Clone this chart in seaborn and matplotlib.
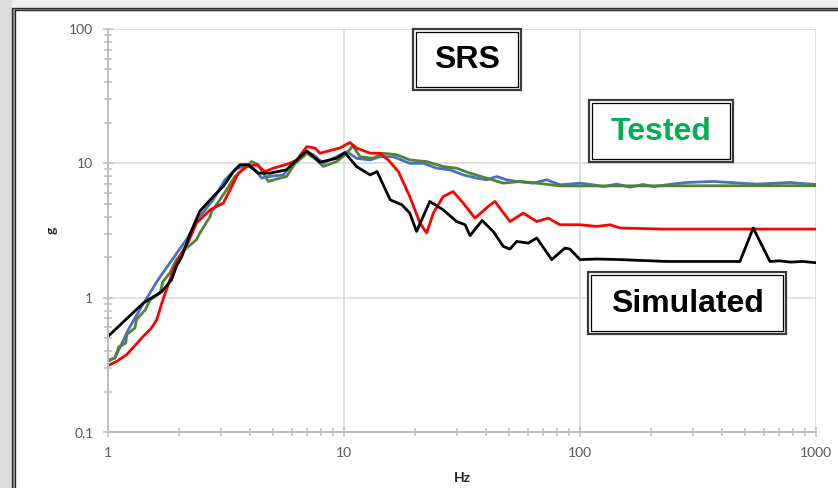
import numpy as np
import pandas as pd
import matplotlib
matplotlib.use("Agg")
import matplotlib.pyplot as plt
from matplotlib.patches import Rectangle
from matplotlib.ticker import FixedLocator, NullFormatter
import seaborn as sns

# ---------------- data ----------------
black_f = [1.0, 1.41, 1.69, 1.86, 1.95, 2.05, 2.23, 2.45, 2.79, 3.08, 3.40, 3.62, 3.93,
           4.33, 4.86, 5.71, 6.31, 6.95, 7.91, 9.31, 10.1, 11.3, 12.9, 13.8, 15.7, 17.6,
           19.0, 20.3, 23.1, 26.3, 30.0, 32.6, 34.2, 38.5, 42.9, 47.3, 50.5, 53.9, 60.4,
           65.6, 75.9, 86.3, 90.7, 100, 118, 148, 233, 476, 542, 638, 700, 780, 880, 1000]
black_g = [0.515, 0.91, 1.11, 1.36, 1.72, 2.0, 3.0, 4.4, 5.66, 6.73, 8.69, 9.75, 9.75,
           8.45, 8.45, 8.95, 10.6, 12.4, 10.2, 10.9, 12.0, 9.47, 8.2, 8.69, 5.35, 4.91,
           4.26, 3.11, 5.2, 4.51, 3.69, 3.49, 2.9, 3.75, 3.11, 2.41, 2.3, 2.62, 2.55,
           2.78, 1.92, 2.34, 2.3, 1.92, 1.94, 1.92, 1.86, 1.86, 3.3, 1.86, 1.88, 1.84, 1.86, 1.82]

red_f = [1.0, 1.09, 1.2, 1.3, 1.41, 1.53, 1.61, 1.69, 1.77, 1.89, 2.05, 2.19, 2.37, 2.71,
         3.08, 3.29, 3.57, 3.87, 4.27, 4.62, 5.02, 5.9, 6.31, 6.95, 7.54, 7.91, 9.6, 10.6,
         11.3, 12.9, 14.2, 15.4, 17.0, 19.0, 21.0, 22.4, 23.9, 26.3, 29.0, 32.0, 35.9,
         41.6, 43.6, 50.5, 57.5, 65.6, 73.4, 82.3, 100, 118, 134, 148, 225, 1000]
red_g = [0.312, 0.336, 0.377, 0.44, 0.515, 0.595, 0.686, 0.91, 1.15, 1.61, 2.15, 2.6, 3.59,
         4.51, 5.06, 6.35, 8.45, 9.47, 9.75, 8.69, 9.2, 10.0, 10.6, 13.3, 13.0, 11.9, 13.0,
         14.3, 13.0, 11.9, 11.9, 10.6, 8.69, 5.66, 3.59, 3.03, 4.26, 5.66, 6.17, 5.06, 3.91,
         4.91, 5.2, 3.69, 4.26, 3.69, 3.91, 3.49, 3.49, 3.39, 3.49, 3.3, 3.24, 3.24]

blue_f = [1.0, 1.07, 1.22, 1.39, 1.63, 2.05, 2.15, 2.45, 2.79, 3.13, 3.45, 3.87, 4.2, 4.48,
          4.78, 5.53, 5.9, 6.31, 6.83, 7.41, 8.17, 9.93, 10.3, 11.3, 12.9, 14.2, 16.2, 19.0,
          21.7, 24.7, 28.1, 32.0, 36.5, 40.2, 44.4, 48.9, 53.9, 63.4, 72.3, 82.3, 100, 114,
          126, 143, 163, 185, 205, 233, 283, 367, 476, 561, 777, 1000]
blue_g = [0.336, 0.356, 0.578, 0.862, 1.36, 2.41, 2.7, 4.02, 5.35, 7.54, 8.95, 9.75, 8.95,
          7.76, 7.98, 8.2, 9.47, 10.3, 12.2, 11.6, 10.0, 11.9, 12.2, 10.9, 10.6, 11.2, 11.2,
          10.0, 10.0, 9.2, 8.95, 8.2, 7.76, 7.54, 7.98, 7.54, 7.33, 7.12, 7.54, 6.92, 7.12,
          6.92, 6.71, 7.0, 6.65, 6.96, 6.71, 6.92, 7.2, 7.33, 7.12, 7.0, 7.2, 6.96]

green_f = [1.0, 1.07, 1.11, 1.19, 1.2, 1.3, 1.32, 1.44, 1.51, 1.66, 1.71, 1.83, 1.95, 2.15,
           2.37, 2.45, 2.71, 2.75, 2.98, 3.18, 3.45, 3.87, 4.06, 4.33, 4.78, 5.35, 5.71, 6.2,
           6.72, 6.95, 7.66, 8.17, 9.31, 10.3, 10.9, 11.7, 13.3, 14.5, 16.7, 19.0, 22.4, 26.3,
           30.0, 34.2, 40.2, 47.3, 55.7, 65.6, 82.3, 100, 1000]
green_g = [0.342, 0.356, 0.43, 0.46, 0.531, 0.595, 0.686, 0.814, 0.966, 1.08, 1.32, 1.53,
           1.92, 2.34, 2.7, 3.03, 4.02, 4.38, 5.35, 6.35, 7.98, 9.47, 10.3, 9.75, 7.33, 7.76,
           7.98, 10.0, 11.2, 11.9, 10.6, 9.47, 10.3, 11.9, 13.5, 11.2, 10.9, 11.9, 11.6, 10.6,
           10.3, 9.47, 9.2, 8.45, 7.76, 7.12, 7.33, 7.12, 6.79, 6.79, 6.82]

x_ticks = [1, 10, 100, 1000]
x_tick_labels = ["1", "10", "100", "1000"]
y_ticks = [0.1, 1, 10, 100]
y_tick_labels = ["0,1", "1", "10", "100"]

series_names = ["blue", "green", "red", "black"]
series_colors = {"blue": "#4472C4", "green": "#548235", "red": "#FF0000", "black": "#000000"}

# ---------------- figure ----------------
sns.set_theme(style="white")
plt.rcParams["font.family"] = ["Liberation Sans", "DejaVu Sans"]

W, H = 838, 488
fig = plt.figure(figsize=(W / 100, H / 100), dpi=100)
fig.patch.set_facecolor("#efefef")

def fx(x):
    return x / W

def fy(y):
    return 1 - y / H

# left gray strip
fig.add_artist(Rectangle((0, 0), fx(12), 1, transform=fig.transFigure,
                         facecolor="#dcdcdc", edgecolor="none", zorder=0))

# chart area with double border
fig.add_artist(Rectangle((fx(12), fy(500)), fx(900), fy(8) - fy(500), transform=fig.transFigure,
                         facecolor="#9a9a9a", edgecolor="#2a2a2a", lw=1.0, zorder=0.5))
fig.add_artist(Rectangle((fx(14.5), fy(500)), fx(900), fy(10.5) - fy(500), transform=fig.transFigure,
                         facecolor="white", edgecolor="#2a2a2a", lw=1.0, zorder=0.6))

ax = fig.add_axes([fx(108), fy(432), fx(816) - fx(108), fy(29) - fy(432)])
ax.set_facecolor("none")
ax.set_zorder(1)

dfs = {
    "blue": pd.DataFrame({"f": blue_f, "g": blue_g}),
    "green": pd.DataFrame({"f": green_f, "g": green_g}),
    "red": pd.DataFrame({"f": red_f, "g": red_g}),
    "black": pd.DataFrame({"f": black_f, "g": black_g}),
}
for name in series_names:
    sns.lineplot(data=dfs[name], x="f", y="g", ax=ax, color=series_colors[name],
                 lw=2.0, estimator=None, sort=False, legend=False)

ax.set_xscale("log")
ax.set_yscale("log")
ax.set_xlim(1, 1000)
ax.set_ylim(0.1, 100)

ax.xaxis.set_major_locator(FixedLocator(x_ticks))
ax.set_xticklabels(x_tick_labels)
ax.yaxis.set_major_locator(FixedLocator(y_ticks))
ax.set_yticklabels(y_tick_labels)
ax.xaxis.set_minor_locator(matplotlib.ticker.LogLocator(base=10, subs=np.arange(2, 10)))
ax.yaxis.set_minor_locator(matplotlib.ticker.LogLocator(base=10, subs=np.arange(2, 10)))
ax.xaxis.set_minor_formatter(NullFormatter())
ax.yaxis.set_minor_formatter(NullFormatter())

ax.grid(True, which="major", color="#d9d9d9", lw=1.1)
ax.grid(False, which="minor")
for s in ["top", "right"]:
    ax.spines[s].set_visible(False)
for s in ["left", "bottom"]:
    ax.spines[s].set_color("#bfbfbf")
    ax.spines[s].set_linewidth(1.4)

ax.tick_params(which="both", direction="inout", color="#bfbfbf", width=1.1,
               left=True, bottom=True)
ax.tick_params(which="major", length=7)
ax.tick_params(which="minor", length=6)
ax.tick_params(axis="x", which="major", pad=7, labelsize=10, labelcolor="#595959")
ax.tick_params(axis="y", which="major", pad=7, labelsize=10, labelcolor="#595959")
for lab in ax.get_xticklabels() + ax.get_yticklabels():
    lab.set_fontfamily(["Lato", "DejaVu Sans"])
ax.set_xlabel("")
ax.set_ylabel("")

fig.text(fx(462), fy(478), "Hz", ha="center", va="center", fontsize=10,
         fontweight="bold", family=["Lato", "DejaVu Sans"])
fig.text(fx(52), fy(230), "g", ha="center", va="center", fontsize=10, rotation=90,
         fontweight="bold", family=["Lato", "DejaVu Sans"])

def boxed_text(x0, y0, x1, y1, text, color):
    fig.add_artist(Rectangle((fx(x0), fy(y1)), fx(x1 - x0), fy(y0) - fy(y1),
                             transform=fig.transFigure, facecolor="white",
                             edgecolor="#3a3a3a", lw=1.6, zorder=5))
    fig.add_artist(Rectangle((fx(x0 + 3), fy(y1 - 3)), fx(x1 - x0 - 6), fy(y0 + 3) - fy(y1 - 3),
                             transform=fig.transFigure, facecolor="none",
                             edgecolor="#000000", lw=0.9, zorder=6))
    fig.text(fx((x0 + x1) / 2), fy((y0 + y1) / 2 + 1), text, ha="center", va="center",
             fontsize=23, fontweight="bold", color=color, zorder=7,
             family=["Liberation Sans", "DejaVu Sans"])

boxed_text(413, 29, 521, 90, "SRS", "#000000")
boxed_text(589, 100, 733, 162, "Tested", "#00B050")
boxed_text(588, 272, 786, 334, "Simulated", "#000000")

fig.savefig("out.png", dpi=100, facecolor=fig.get_facecolor())
